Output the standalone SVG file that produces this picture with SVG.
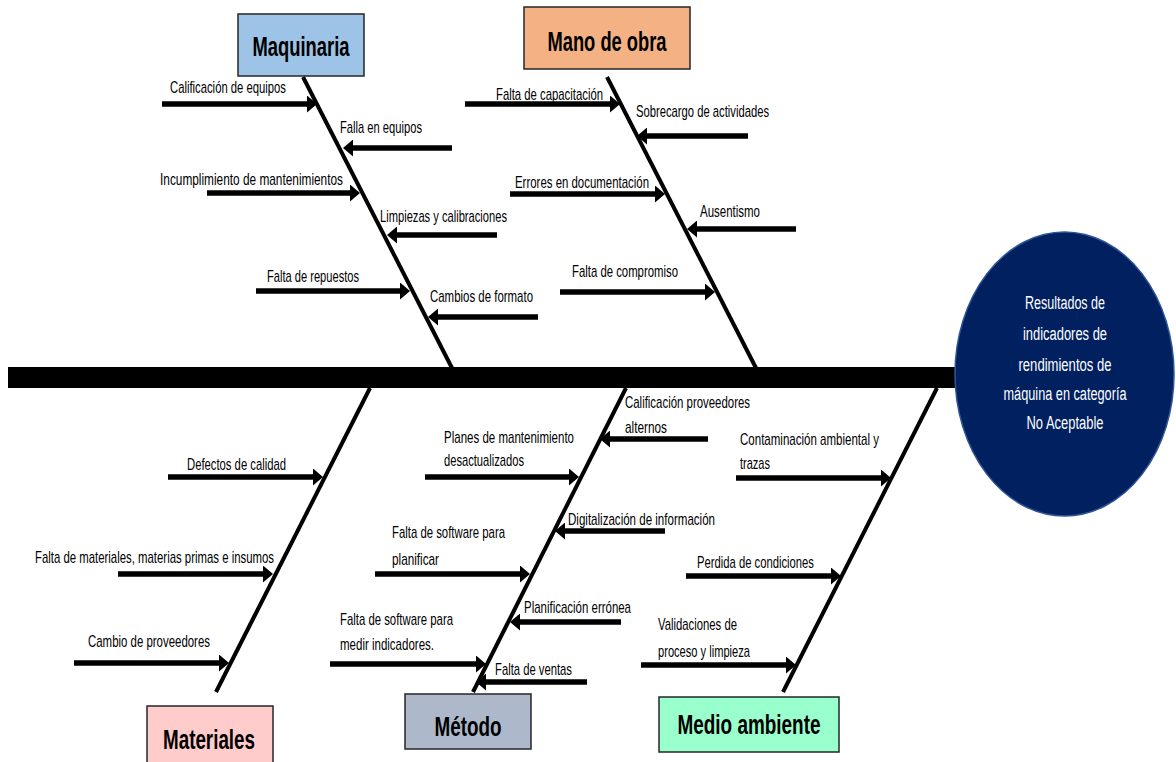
<svg xmlns="http://www.w3.org/2000/svg" width="1176" height="762" viewBox="0 0 1176 762">
<style>
.lbl{font-family:"Liberation Sans",Arial,sans-serif;font-size:17px;fill:#000;}
.ttl{font-family:"Liberation Sans",Arial,sans-serif;font-size:27px;font-weight:bold;fill:#000;text-anchor:middle;}
.ctx{font-family:"Liberation Sans",Arial,sans-serif;font-size:18px;fill:#fff;text-anchor:middle;}
.box{stroke:#262626;stroke-width:1.5;}
.bone{stroke:#000;stroke-width:4;fill:none;}
.arr{stroke:#000;stroke-width:5.5;fill:none;marker-end:url(#ah);}
</style>
<defs>
<marker id="ah" markerUnits="userSpaceOnUse" markerWidth="11" markerHeight="17" refX="4" refY="8.5" orient="auto" viewBox="0 0 11 17">
<path d="M0,0 L10,8.5 L0,17 z" fill="#000"/>
</marker>
</defs>
<rect width="1176" height="762" fill="#fff"/>

<g id="connectors">
<rect x="8" y="367" width="947" height="21" fill="#000"/>
<line class="bone" x1="303" y1="77" x2="452" y2="368"/>
<line class="bone" x1="607" y1="77" x2="756" y2="368"/>
<line class="bone" x1="370" y1="388" x2="216" y2="692"/>
<line class="bone" x1="626" y1="388" x2="473" y2="692"/>
<line class="bone" x1="937" y1="388" x2="783" y2="692"/>
<!-- Maquinaria -->
<line class="arr" x1="162" y1="104" x2="311" y2="104"/>
<line class="arr" x1="452" y1="148" x2="349" y2="148"/>
<line class="arr" x1="207" y1="193" x2="354" y2="193"/>
<line class="arr" x1="497" y1="235" x2="393" y2="235"/>
<line class="arr" x1="256" y1="291" x2="404" y2="291"/>
<line class="arr" x1="538" y1="317" x2="434" y2="317"/>
<!-- Mano de obra -->
<line class="arr" x1="465" y1="104" x2="614" y2="104"/>
<line class="arr" x1="748" y1="136" x2="643" y2="136"/>
<line class="arr" x1="510" y1="194" x2="659" y2="194"/>
<line class="arr" x1="796" y1="229" x2="693" y2="229"/>
<line class="arr" x1="560" y1="292" x2="709" y2="292"/>
<!-- Materiales -->
<line class="arr" x1="168" y1="477" x2="317" y2="477"/>
<line class="arr" x1="118" y1="574" x2="267" y2="574"/>
<line class="arr" x1="74" y1="663" x2="223" y2="663"/>
<!-- Metodo -->
<line class="arr" x1="708" y1="439" x2="606" y2="439"/>
<line class="arr" x1="425" y1="477" x2="573" y2="477"/>
<line class="arr" x1="665" y1="531" x2="561" y2="531"/>
<line class="arr" x1="375" y1="574" x2="524" y2="574"/>
<line class="arr" x1="621" y1="622" x2="516" y2="622"/>
<line class="arr" x1="330" y1="664" x2="480" y2="664"/>
<line class="arr" x1="587" y1="682" x2="482" y2="682"/>
<!-- Medio ambiente -->
<line class="arr" x1="736" y1="478" x2="885" y2="478"/>
<line class="arr" x1="686" y1="576" x2="835" y2="576"/>
<line class="arr" x1="641" y1="665" x2="790" y2="665"/>
</g>

<g id="maquinaria">
<rect class="box" x="238" y="14" width="126" height="62" fill="#9DC3E6"/>
<text class="ttl" x="301" y="56" textLength="97" lengthAdjust="spacingAndGlyphs">Maquinaria</text>
<text class="lbl" x="170" y="93" textLength="116" lengthAdjust="spacingAndGlyphs">Calificación de equipos</text>
<text class="lbl" x="340" y="133" textLength="82" lengthAdjust="spacingAndGlyphs">Falla en equipos</text>
<text class="lbl" x="160" y="185" textLength="183" lengthAdjust="spacingAndGlyphs">Incumplimiento de mantenimientos</text>
<text class="lbl" x="380" y="222" textLength="127" lengthAdjust="spacingAndGlyphs">Limpiezas y calibraciones</text>
<text class="lbl" x="267" y="282" textLength="92" lengthAdjust="spacingAndGlyphs">Falta de repuestos</text>
<text class="lbl" x="430" y="302" textLength="103" lengthAdjust="spacingAndGlyphs">Cambios de formato</text>
</g>

<g id="mano-de-obra">
<rect class="box" x="524" y="7" width="166" height="62" fill="#F4B183"/>
<text class="ttl" x="607" y="51" textLength="119" lengthAdjust="spacingAndGlyphs">Mano de obra</text>
<text class="lbl" x="496" y="100" textLength="107" lengthAdjust="spacingAndGlyphs">Falta de capacitación</text>
<text class="lbl" x="636" y="117" textLength="133" lengthAdjust="spacingAndGlyphs">Sobrecargo de actividades</text>
<text class="lbl" x="515" y="188" textLength="134" lengthAdjust="spacingAndGlyphs">Errores en documentación</text>
<text class="lbl" x="700" y="217" textLength="60" lengthAdjust="spacingAndGlyphs">Ausentismo</text>
<text class="lbl" x="572" y="277" textLength="106" lengthAdjust="spacingAndGlyphs">Falta de compromiso</text>
</g>

<g id="materiales">
<rect class="box" x="147" y="706" width="126" height="62" fill="#FFCCCC"/>
<text class="ttl" x="209" y="749" textLength="92" lengthAdjust="spacingAndGlyphs">Materiales</text>
<text class="lbl" x="187" y="470" textLength="99" lengthAdjust="spacingAndGlyphs">Defectos de calidad</text>
<text class="lbl" x="35" y="563" textLength="239" lengthAdjust="spacingAndGlyphs">Falta de materiales, materias primas e insumos</text>
<text class="lbl" x="88" y="647" textLength="122" lengthAdjust="spacingAndGlyphs">Cambio de proveedores</text>
</g>

<g id="metodo">
<rect class="box" x="405" y="694" width="126" height="55" fill="#ADB9CA"/>
<text class="ttl" x="468" y="736" textLength="67" lengthAdjust="spacingAndGlyphs">Método</text>
<text class="lbl" x="625" y="408" textLength="125" lengthAdjust="spacingAndGlyphs">Calificación proveedores</text>
<text class="lbl" x="625" y="433" textLength="42" lengthAdjust="spacingAndGlyphs">alternos</text>
<text class="lbl" x="444" y="443" textLength="130" lengthAdjust="spacingAndGlyphs">Planes de mantenimiento</text>
<text class="lbl" x="444" y="466" textLength="80" lengthAdjust="spacingAndGlyphs">desactualizados</text>
<text class="lbl" x="568" y="525" textLength="147" lengthAdjust="spacingAndGlyphs">Digitalización de información</text>
<text class="lbl" x="392" y="538" textLength="113" lengthAdjust="spacingAndGlyphs">Falta de software para</text>
<text class="lbl" x="392" y="565" textLength="47" lengthAdjust="spacingAndGlyphs">planificar</text>
<text class="lbl" x="524" y="613" textLength="107" lengthAdjust="spacingAndGlyphs">Planificación errónea</text>
<text class="lbl" x="340" y="625" textLength="113" lengthAdjust="spacingAndGlyphs">Falta de software para</text>
<text class="lbl" x="340" y="650" textLength="94" lengthAdjust="spacingAndGlyphs">medir indicadores.</text>
<text class="lbl" x="495" y="675" textLength="77" lengthAdjust="spacingAndGlyphs">Falta de ventas</text>
</g>

<g id="medio-ambiente">
<rect class="box" x="659" y="697" width="180" height="55" fill="#99FFCC"/>
<text class="ttl" x="749" y="734" textLength="143" lengthAdjust="spacingAndGlyphs">Medio ambiente</text>
<text class="lbl" x="740" y="445" textLength="139" lengthAdjust="spacingAndGlyphs">Contaminación ambiental y</text>
<text class="lbl" x="740" y="469" textLength="30" lengthAdjust="spacingAndGlyphs">trazas</text>
<text class="lbl" x="697" y="568" textLength="117" lengthAdjust="spacingAndGlyphs">Perdida de condiciones</text>
<text class="lbl" x="658" y="630" textLength="79" lengthAdjust="spacingAndGlyphs">Validaciones de</text>
<text class="lbl" x="658" y="657" textLength="92" lengthAdjust="spacingAndGlyphs">proceso y limpieza</text>
</g>

<g id="resultado">
<ellipse cx="1064.5" cy="374" rx="109.5" ry="142" fill="#002060" stroke="#2F5597" stroke-width="1.5"/>
<text class="ctx" x="1065" y="309" textLength="80" lengthAdjust="spacingAndGlyphs">Resultados de</text>
<text class="ctx" x="1065" y="340" textLength="84" lengthAdjust="spacingAndGlyphs">indicadores de</text>
<text class="ctx" x="1065" y="371" textLength="93" lengthAdjust="spacingAndGlyphs">rendimientos de</text>
<text class="ctx" x="1065" y="400" textLength="123" lengthAdjust="spacingAndGlyphs">máquina en categoría</text>
<text class="ctx" x="1065" y="429" textLength="77" lengthAdjust="spacingAndGlyphs">No Aceptable</text>
</g>
</svg>
